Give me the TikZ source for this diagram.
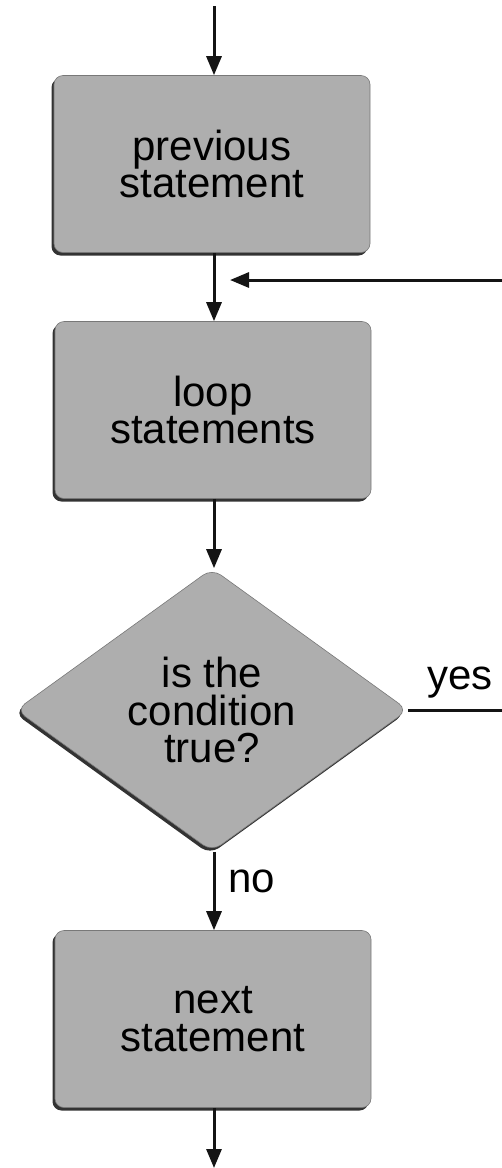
\documentclass[tikz,border=0pt]{standalone}
\usepackage{fontspec}
\setmainfont{Liberation Sans}
\usetikzlibrary{arrows.meta,shapes.geometric,shadows}
\definecolor{boxgray}{RGB}{174,174,174}
\definecolor{edgegray}{RGB}{120,120,120}
\definecolor{linedark}{RGB}{20,20,20}
\begin{document}
\begin{tikzpicture}[x=1pt,y=-1pt,
  every node/.style={font=\fontsize{42}{37.5}\selectfont, text=black},
  stepbox/.style={rectangle, rounded corners=9pt, fill=boxgray, draw=edgegray,
    line width=0.6pt, minimum width=316pt, minimum height=177pt, inner sep=0pt,
    align=center,
    drop shadow={shadow xshift=-2.5pt, shadow yshift=-3pt, fill=black!80, opacity=1}},
  decision/.style={diamond, rounded corners=11pt, fill=boxgray, draw=edgegray,
    line width=0.6pt, minimum width=392pt, minimum height=283pt, inner sep=0pt,
    aspect=1.385, align=center,
    drop shadow={shadow xshift=-2pt, shadow yshift=-3pt, fill=black!80, opacity=1}},
  flow/.style={draw=linedark, line width=3pt, -{Triangle[length=19pt,width=15pt]}},
  plain/.style={draw=linedark, line width=3pt},
  lbl/.style={inner sep=0pt}
]
\useasboundingbox (0,0) rectangle (502,1168);

% main column of the flowchart
\node[stepbox] (prev) at (212,164) {previous\\statement};
\node[stepbox] (loop) at (213,410) {loop\\statements};
\node[decision] (cond) at (212,710) {is the\\condition\\true?};
\node[stepbox] (next) at (213,1019) {next\\statement};

% free ends at the top, bottom and right margin
\coordinate (entry) at (214,6);
\coordinate (exit) at (214,1168);
\coordinate (yesend) at (502,710);
\coordinate (backstart) at (502,280);
\coordinate (backtip) at (230,280);

\draw[flow] (entry) -- (prev.north -| entry);
\draw[flow] (prev.south -| entry) -- (loop.north -| entry);
\draw[flow] (loop.south -| entry) -- (cond.north -| entry);
\draw[flow] (cond.south -| entry) -- node[lbl, right=13pt, pos=0.38] (nolbl) {no} (next.north -| entry);
\draw[flow] (next.south -| entry) -- (exit);

% loop-back branch
\draw[plain] (cond.east) -- node[lbl, above=10pt, pos=0.55] (yeslbl) {yes} (yesend);
\draw[flow] (backstart) -- (backtip);
\end{tikzpicture}
\end{document}
